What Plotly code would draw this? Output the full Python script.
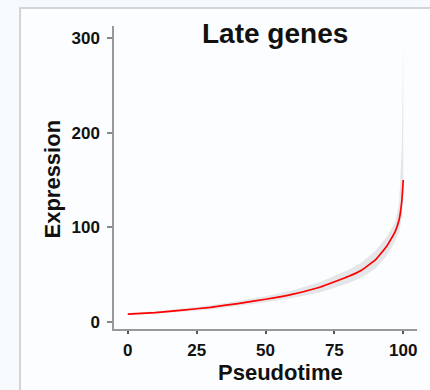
import plotly.graph_objects as go

pseudotime = [0, 10, 20, 30, 40, 50, 60, 70, 80, 85, 90, 94, 97, 98.5, 99.5, 100]
expression = [8.4, 10, 12.5, 15.5, 19.5, 24, 29.5, 37, 48, 55, 66, 80, 95, 108, 128, 150]
ci_lower = [7.4, 8.7, 10.8, 13.3, 16.8, 20.8, 25.5, 31.5, 41, 47, 56.5, 70, 85, 95, 111, 135]
ci_upper = [9.4, 11.3, 14.2, 17.7, 22.2, 27.2, 33.5, 42.5, 55, 63, 75.5, 90, 105, 125, 185, 298]

fig = go.Figure()
fig.add_trace(go.Scatter(x=pseudotime + pseudotime[::-1], y=ci_upper + ci_lower[::-1],
                         fill="toself", fillcolor="rgba(215,215,218,0.6)",
                         line=dict(width=0), hoverinfo="skip", showlegend=False))
fig.add_trace(go.Scatter(x=pseudotime, y=expression, mode="lines",
                         line=dict(color="#ff0000", width=1.7, shape="spline", smoothing=0.3),
                         showlegend=False))

font = "Liberation Sans, Arial, sans-serif"
fig.update_layout(
    width=430, height=390,
    margin=dict(l=114, r=13, t=26, b=61),
    paper_bgcolor="#f6fafc", plot_bgcolor="rgba(0,0,0,0)",
    font=dict(family=font, color="#111"),
    shapes=[dict(type="rect", xref="paper", yref="paper", x0=-0.31, x1=1.2, y0=-0.3, y1=1.059,
                 line=dict(color="#c8c8c8", width=1.5), fillcolor="#fbfdfe", layer="below")],
    annotations=[
        dict(text="<b>Late genes</b>", xref="paper", yref="paper", x=0.53, y=0.974,
             xanchor="center", yanchor="middle",
             showarrow=False, font=dict(size=28, family=font, color="#111")),
        dict(text="<b>Pseudotime</b>", xref="paper", yref="paper", x=0.551, y=-0.145,
             xanchor="center", yanchor="middle",
             showarrow=False, font=dict(size=22, family=font, color="#111")),
        dict(text="<b>Expression</b>", xref="paper", yref="paper", x=-0.203, y=0.495,
             xanchor="center", yanchor="middle", textangle=-90,
             showarrow=False, font=dict(size=22, family=font, color="#111")),
    ],
    xaxis=dict(range=[-5, 105], tickvals=[0, 25, 50, 75, 100], showgrid=False, zeroline=False,
               showline=True, linecolor="#999", linewidth=1.5, ticks="outside", ticklen=3,
               tickcolor="#555", tickwidth=1.5, ticklabelstandoff=2,
               tickfont=dict(size=17, family=font, color="#111", weight="bold")),
    yaxis=dict(range=[-7.4, 312.7], tickvals=[0, 100, 200, 300], showgrid=False, zeroline=False,
               showline=True, linecolor="#999", linewidth=1.5, ticks="outside", ticklen=5,
               tickcolor="#888", tickwidth=1.5, ticklabelstandoff=4,
               tickfont=dict(size=17, family=font, color="#111", weight="bold")),
)
fig.write_html("out.html")
